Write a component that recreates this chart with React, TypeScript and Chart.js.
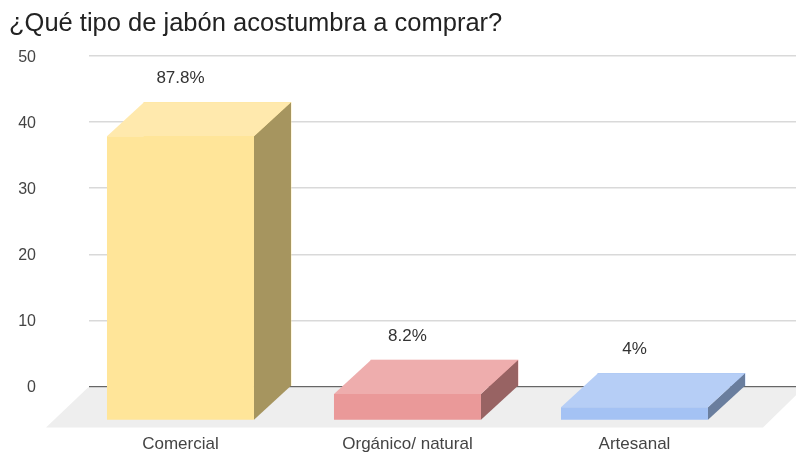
import React, { useEffect, useRef } from "react";
import { Chart, registerables } from "chart.js";

Chart.register(...registerables);

const TITLE = "¿Qué tipo de jabón acostumbra a comprar?";
const categories = ["Comercial", "Orgánico/ natural", "Artesanal"];
const values = [43, 4, 2];
const valueLabels = ["87.8%", "8.2%", "4%"];
const frontColors = ["#FFE599", "#EA9999", "#A4C2F4"];
const topColors = ["#FFE9AD", "#EEADAD", "#B6CEF6"];
const sideColors = ["#A6955F", "#986363", "#6A7E9E"];

const DX = 37;
const DY = 34;
const FONT = "'Liberation Sans', Arial, sans-serif";

const poly = (ctx: CanvasRenderingContext2D, pts: number[][], fill: string) => {
  ctx.fillStyle = fill;
  ctx.beginPath();
  pts.forEach(([x, y], i) => (i ? ctx.lineTo(x, y) : ctx.moveTo(x, y)));
  ctx.closePath();
  ctx.fill();
};

const floorPlugin = {
  id: "floor3d",
  beforeDatasetsDraw(chart: any) {
    const { ctx, chartArea, scales } = chart;
    const y0 = scales.y.getPixelForValue(0) + 1;
    poly(
      ctx,
      [
        [chartArea.left - 1, y0],
        [chartArea.right + 8, y0],
        [chartArea.right - 33, y0 + 40],
        [chartArea.left - 43, y0 + 40],
      ],
      "#EEEEEE"
    );
  },
};

const bar3dPlugin = {
  id: "bar3d",
  afterDatasetsDraw(chart: any) {
    const { ctx } = chart;
    chart.getDatasetMeta(0).data.forEach((bar: any, i: number) => {
      const halfW = bar.width / 2;
      const l = bar.x - halfW;
      const r = bar.x + halfW;
      const t = bar.y;
      const b = bar.base;
      poly(ctx, [[r - DX, t + DY], [r, t], [r, b], [r - DX, b + DY]], sideColors[i]);
      poly(ctx, [[l - DX, t + DY], [l, t], [r, t], [r - DX, t + DY]], topColors[i]);
      poly(ctx, [[l - DX, t + DY], [r - DX, t + DY], [r - DX, b + DY], [l - DX, b + DY]], frontColors[i]);
      ctx.save();
      ctx.fillStyle = "#333333";
      ctx.font = `17px ${FONT}`;
      ctx.textAlign = "center";
      ctx.textBaseline = "middle";
      ctx.fillText(valueLabels[i], bar.x - DX, bar.y - 23.5);
      ctx.restore();
    });
  },
};

export default function App() {
  const ref = useRef<HTMLCanvasElement>(null);
  useEffect(() => {
    const chart = new Chart(ref.current!, {
      type: "bar",
      data: {
        datasets: [
          {
            data: values.map((y, x) => ({ x, y })),
            backgroundColor: frontColors,
            barThickness: 147,
          },
        ],
      },
      options: {
        responsive: false,
        animation: false,
        layout: { padding: { left: 9, top: 0, right: 0, bottom: 0 } },
        plugins: {
          legend: { display: false },
          tooltip: { enabled: false },
          title: {
            display: true,
            text: TITLE,
            align: "start",
            color: "#222222",
            font: { family: FONT, size: 25.5, weight: "normal" },
            padding: { top: 9, bottom: 16.4 },
          },
        },
        scales: {
          x: {
            type: "linear",
            offset: false,
            min: -0.566,
            max: 2.5485,
            grid: { display: false },
            border: { display: false },
            afterFit: (s: any) => {
              s.height = 67.5;
            },
            ticks: {
              stepSize: 1,
              includeBounds: false,
              autoSkip: false,
              maxRotation: 0,
              labelOffset: -DX,
              padding: 39.5,
              color: "#444444",
              font: { family: FONT, size: 17 },
              callback: (v: any) => categories[v] ?? "",
            },
          },
          y: {
            min: 0,
            max: 50,
            border: { display: false },
            afterFit: (s: any) => {
              s.width = 80;
            },
            grid: {
              drawTicks: true,
              tickLength: 53,
              tickColor: "rgba(0,0,0,0)",
              color: (c: any) => (c.tick.value === 0 ? "#666666" : "#D9D9D9"),
              lineWidth: 1.5,
            },
            ticks: {
              stepSize: 10,
              padding: 0,
              labelOffset: 1.5,
              color: "#444444",
              font: { family: FONT, size: 16 },
            },
          },
        },
      },
      plugins: [floorPlugin, bar3dPlugin],
    } as any);
    return () => chart.destroy();
  }, []);
  return (
    <div style={{ position: "absolute", left: 0, top: 0, width: 796, height: 454, background: "#fff" }}>
      <canvas ref={ref} width={796} height={454} style={{ display: "block" }} />
    </div>
  );
}
